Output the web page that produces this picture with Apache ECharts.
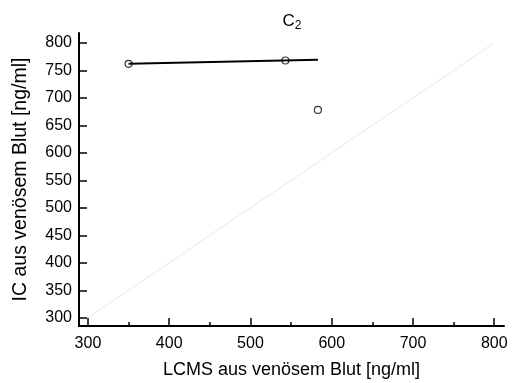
<!DOCTYPE html>
<html><head><meta charset="utf-8">
<script src="https://cdn.jsdelivr.net/npm/echarts@6/dist/echarts.min.js"></script>
<style>html,body{margin:0;padding:0;background:#fff}#c{width:515px;height:383px}</style>
</head><body><div id="c"></div>
<script>
const xTicks = [300, 400, 500, 600, 700, 800];
const xMinorTicks = [350, 450, 550, 650, 750];
const yTicks = [300, 350, 400, 450, 500, 550, 600, 650, 700, 750, 800];
const lcms = [350, 543, 583];
const ic = [762, 768, 678];
const fitX = [350, 583];
const fitY = [762, 769.5];
const idLine = [300, 800];

const F = 'Liberation Sans, Arial, Helvetica, sans-serif';
const chart = echarts.init(document.getElementById('c'));
chart.setOption({
  animation: false,
  title: {
    text: '{c|C}{s|2}', left: 287, top: 5, textAlign: 'center',
    textStyle: { fontWeight: 'normal', rich: { c: { fontSize: 17, fontFamily: F, color: '#000' }, s: { fontSize: 12, fontFamily: F, color: '#000', padding: [10, 0, 0, 0] } } }
  },
  grid: { left: 79, right: 11, top: 33, bottom: 57, outerBoundsMode: 'none', containLabel: false },
  xAxis: [{
    type: 'value', min: 289, max: 812,
    name: 'LCMS aus venösem Blut [ng/ml]', nameLocation: 'middle', nameGap: 35,
    nameTextStyle: { fontSize: 18, fontFamily: F, color: '#000' },
    axisLine: { lineStyle: { color: '#000', width: 2 } },
    axisTick: { inside: true, length: 8, lineStyle: { color: '#000', width: 1.5 }, customValues: xTicks },
    axisLabel: { fontSize: 16, fontFamily: F, color: '#000', margin: 10, customValues: xTicks },
    splitLine: { show: false }
  }, {
    type: 'value', min: 289, max: 812, position: 'bottom',
    axisLine: { show: false },
    axisTick: { inside: true, length: 4, lineStyle: { color: '#000', width: 1.5 }, customValues: xMinorTicks },
    axisLabel: { show: false }, splitLine: { show: false }
  }],
  yAxis: {
    type: 'value', min: 285, max: 818,
    name: 'IC aus venösem Blut [ng/ml]', nameLocation: 'middle', nameGap: 48,
    nameTextStyle: { fontSize: 19.5, fontFamily: F, color: '#000' },
    axisLine: { lineStyle: { color: '#000', width: 2 } },
    axisTick: { inside: true, length: 8, lineStyle: { color: '#000', width: 1.5 }, customValues: yTicks },
    axisLabel: { fontSize: 16, fontFamily: F, color: '#000', margin: 7, customValues: yTicks },
    splitLine: { show: false }
  },
  series: [
    { type: 'line', data: idLine.map(v => [v, v]), symbol: 'none', lineStyle: { color: '#e6e6e6', width: 1 }, z: 1 },
    { type: 'line', data: fitX.map((v, i) => [v, fitY[i]]), symbol: 'none', lineStyle: { color: '#000', width: 2 }, z: 2 },
    { type: 'scatter', data: lcms.map((v, i) => [v, ic[i]]), symbol: 'circle', symbolSize: 7,
      itemStyle: { color: 'rgba(0,0,0,0)', borderColor: '#000', borderWidth: 1.2 }, z: 3 }
  ]
});
</script></body></html>
